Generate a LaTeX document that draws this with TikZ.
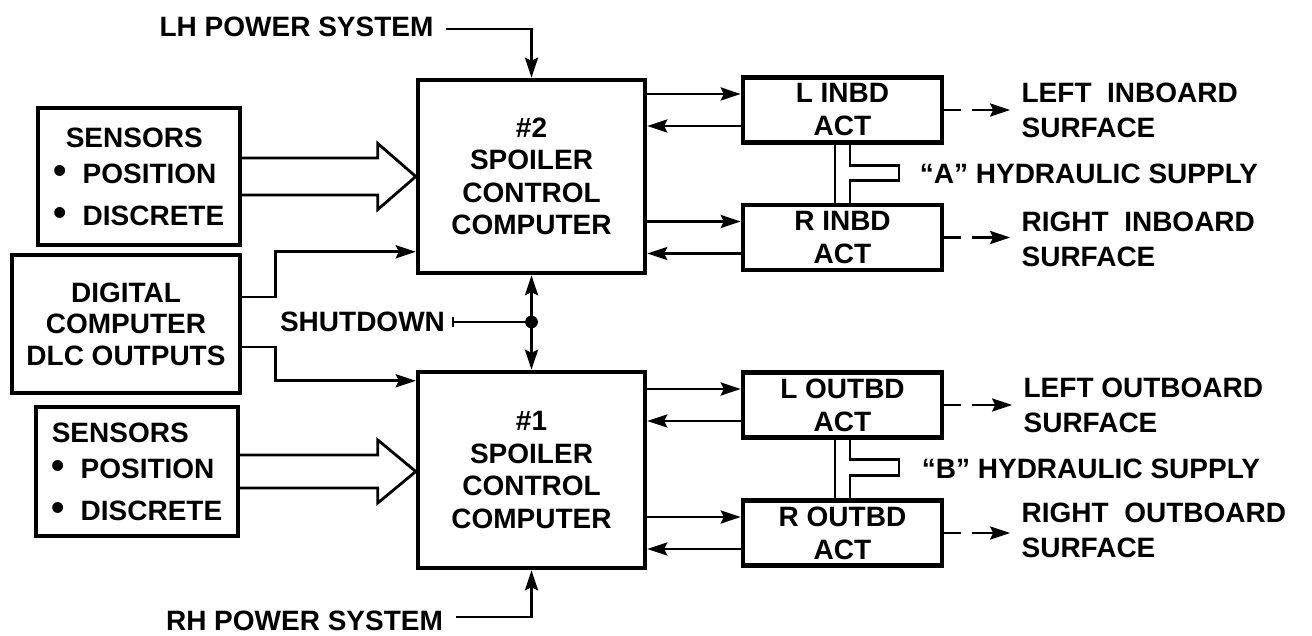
\documentclass[tikz,border=0pt]{standalone}
\usepackage{fontspec}
\setmainfont{Liberation Sans}
\usetikzlibrary{arrows.meta,calc}
\newcommand{\bigbul}{{\fontsize{19}{0}\selectfont\textbullet}}
\begin{document}
\begin{tikzpicture}[x=0.5pt,y=-0.5pt,
  every node/.style={font=\fontsize{14}{16.5}\selectfont\bfseries},
  box/.style={draw, line width=2.2pt, align=center, inner sep=0pt},
  sensbox/.style={box, align=left, minimum width=101pt, font=\fontsize{14}{17.5}\selectfont\bfseries},
  compbox/.style={box, minimum width=113.5pt, font=\fontsize{14}{16.2}\selectfont\bfseries},
  actbox/.style={box, minimum width=99.5pt, minimum height=32.5pt, font=\fontsize{14}{16.5}\selectfont\bfseries},
  sidetext/.style={anchor=west, inner sep=0pt, align=left, font=\fontsize{14}{17.5}\selectfont\bfseries},
  conn/.style={line width=1.4pt},
  thinconn/.style={line width=1pt},
  myarrow/.style={-{Stealth[length=10pt,width=6.5pt,inset=1.5pt]}},
  hollow/.style={line width=1.4pt, line join=miter},
  pipe/.style={line width=1.3pt},
  dasharrow/.style={line width=1.4pt, dash pattern=on 8.5pt off 5.5pt on 40pt, -{Stealth[length=10pt,width=6.5pt,inset=1.5pt]}, shorten >=5.5pt}
]
\useasboundingbox (0,0) rectangle (1312,636);

% left boxes
\node[sensbox, minimum height=68.5pt] (sensA) at (139,176.5)
  {\hspace*{6pt}SENSORS\\[0.5pt]\bigbul\ \ POSITION\\[3.5pt]\bigbul\ \ DISCRETE};
\node[box, minimum width=114pt, minimum height=69pt, font=\fontsize{14}{15.75}\selectfont\bfseries] (digi) at (126,324)
  {DIGITAL\\COMPUTER\\DLC OUTPUTS};
\node[sensbox, minimum height=64.5pt] (sensB) at (137,471.5)
  {SENSORS\\[0.5pt]\bigbul\ \ POSITION\\[3.5pt]\bigbul\ \ DISCRETE};

% computers
\node[compbox, minimum height=96.5pt] (c2) at (531.5,176.5) {\#2\\SPOILER\\CONTROL\\COMPUTER};
\node[compbox, minimum height=98pt] (c1) at (531.5,470) {\#1\\SPOILER\\CONTROL\\COMPUTER};

% actuators
\node[actbox] (li) at (842.5,110) {L INBD\\ACT};
\node[actbox] (ri) at (842.5,237.5) {R INBD\\ACT};
\node[actbox] (lo) at (842.5,405) {L OUTBD\\ACT};
\node[actbox] (ro) at (842.5,533) {R OUTBD\\ACT};

% surface labels
\node[sidetext] (lis) at ($(li.east)+(77,0)$) {LEFT\ \ INBOARD\\SURFACE};
\node[sidetext] (ris) at ($(ri.east)+(77,2)$) {RIGHT\ \ INBOARD\\SURFACE};
\node[sidetext] (los) at ($(lo.east)+(79,0)$) {LEFT OUTBOARD\\SURFACE};
\node[sidetext] (ros) at ($(ro.east)+(77,-3)$) {RIGHT\ \ OUTBOARD\\SURFACE};
\node[sidetext] (hA) at ($(li.south)+(77,29)$) {“A” HYDRAULIC SUPPLY};
\node[sidetext] (hB) at ($(lo.south)+(79,29)$) {“B” HYDRAULIC SUPPLY};

% other labels
\node (lh) at (296.5,27) {LH POWER SYSTEM};
\node (rh) at (304.5,621) {RH POWER SYSTEM};
\node (sd) at (362.5,322) {SHUTDOWN};

% power inputs
\draw[conn,myarrow] ([xshift=3pt,yshift=-1pt]lh.east) -| (c2.north);
\draw[conn,myarrow] ([xshift=3pt,yshift=2pt]rh.east) -| (c1.south);

% shutdown junction
\coordinate (j) at (c2.south |- sd.east);
\draw[thinconn,{Bar[width=5pt]}-] (sd.east) -- (j);
\fill (j) circle (3.2pt);
\draw[conn,myarrow] (j) -- (c2.south);
\draw[conn,myarrow] (j) -- (c1.north);

% hollow sensor arrows
\coordinate (tA) at (c2.west |- sensA.east);
\draw[hollow] ($(sensA.east)+(0,-18.5)$) -- ($(tA)+(-38,-18.5)$) -- ($(tA)+(-38,-33)$) -- (tA)
  -- ($(tA)+(-38,33)$) -- ($(tA)+(-38,18.5)$) -- ($(sensA.east)+(0,18.5)$);
\coordinate (tB) at (c1.west |- sensB.east);
\draw[hollow] ($(sensB.east)+(0,-16.5)$) -- ($(tB)+(-38,-16.5)$) -- ($(tB)+(-38,-31.5)$) -- (tB)
  -- ($(tB)+(-38,31.5)$) -- ($(tB)+(-38,16.5)$) -- ($(sensB.east)+(0,16.5)$);

% digital computer outputs
\coordinate (d1) at ($(digi.east)+(0,-27)$);
\coordinate (c2in) at ($(c2.north west)+(0,174)$);
\draw[conn,myarrow] (d1) -- ++(33,0) |- (c2in);
\coordinate (d2) at ($(digi.east)+(0,23)$);
\coordinate (c1in) at ($(c1.north west)+(0,11)$);
\draw[conn,myarrow] (d2) -- ++(33,0) |- (c1in);

% computer <-> actuator links
\foreach \c/\a in {c2/li, c2/ri, c1/lo, c1/ro} {
  \coordinate (\a-in) at ($(\a.west)+(0,-16)$);
  \coordinate (\a-out) at ($(\a.west)+(0,16)$);
  \draw[conn,myarrow] (\c.east |- \a-in) -- (\a-in);
  \draw[conn,myarrow] (\a-out) -- (\c.east |- \a-out);
}

% actuator -> surface (dashed)
\draw[dasharrow] (li.east) -- (li.east -| lis.west);
\draw[dasharrow] (ri.east) -- (ri.east -| ris.west);
\draw[dasharrow] (lo.east) -- (lo.east -| los.west);
\draw[dasharrow] (ro.east) -- (ro.east -| ros.west);

% hydraulic supply pipes
\draw[pipe] ($(li.south)+(-7.5,0)$) -- ($(ri.north)+(-7.5,0)$);
\draw[pipe] ($(li.south)+(7.5,0)$) -- ++(0,21) -- ++(49,0) -- ++(0,15) -- ++(-49,0) -- ($(ri.north)+(7.5,0)$);
\draw[pipe] ($(lo.south)+(-7.5,0)$) -- ($(ro.north)+(-7.5,0)$);
\draw[pipe] ($(lo.south)+(7.5,0)$) -- ++(0,20) -- ++(49,0) -- ++(0,16) -- ++(-49,0) -- ($(ro.north)+(7.5,0)$);
\end{tikzpicture}
\end{document}
